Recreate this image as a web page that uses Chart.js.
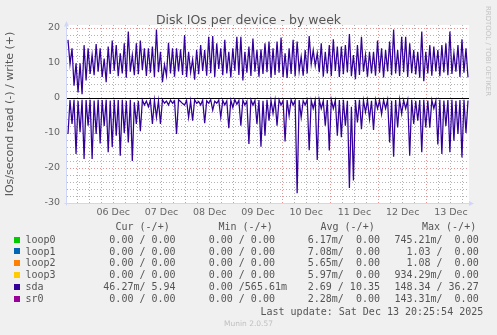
<!DOCTYPE html>
<html>
<head>
<meta charset="utf-8">
<script src="https://cdn.jsdelivr.net/npm/chart.js@4.4.1/dist/chart.umd.min.js"></script>
<style>
html,body{margin:0;padding:0;background:#F0F0F0;width:497px;height:335px;overflow:hidden;}
#wrap{position:relative;width:497px;height:335px;}
#c{position:absolute;left:0;top:0;}
.t{position:absolute;white-space:pre;z-index:2;}
.mono{font-family:"DejaVu Sans Mono",monospace;font-size:10px;line-height:12px;color:#555;}
.sq{position:absolute;width:6px;height:6px;z-index:2;}
</style>
</head>
<body>
<div id="wrap">
<canvas id="c" width="497" height="335"></canvas>
</div>
<script>
// ---- data ----
const graphTitle = 'Disk IOs per device - by week';
const yAxisTitle = 'IOs/second read (-) / write (+)';
// first sample: 05 Dec 13:30 (hours counted from 05 Dec 00:00), one sample per hour
const startHour = 13.5;
const stepHours = 1;
const axisStartHour = 13;
const axisEndHour = 213;
const dayLabels = ['06 Dec','07 Dec','08 Dec','09 Dec','10 Dec','11 Dec','12 Dec','13 Dec'];
const yTickValues = [-30,-28,-26,-24,-22,-20,-18,-16,-14,-12,-10,-8,-6,-4,-2,0,2,4,6,8,10,12,14,16,18,20];

// sda writes (+)
const sdaWrite = [
16.6,9.7,14.2,3.5,9.9,1.6,9.9,1.1,15.1,5.0,14.2,6.9,12.3,6.5,15.4,7.5,14.2,6.0,11.3,4.5,
14.7,6.9,16.4,7.8,15.1,6.2,12.8,7.0,15.6,5.8,19.0,7.5,12.3,6.5,15.6,6.8,16.4,8.0,14.2,6.3,
14.2,7.2,14.7,6.0,19.6,7.4,13.2,4.5,9.5,6.4,15.8,7.0,14.2,6.1,14.2,7.6,13.9,6.6,18.0,6.0,
13.2,7.3,11.0,5.2,13.7,6.8,15.1,7.7,13.7,6.4,17.5,7.1,17.7,6.0,15.6,8.3,14.2,6.5,16.6,7.0,
13.2,5.9,14.2,7.8,17.5,6.6,17.5,5.0,13.2,7.2,14.7,6.3,17.0,7.5,13.7,6.1,13.9,6.9,15.6,7.4,
16.1,5.8,14.2,6.6,16.1,7.2,17.3,6.0,12.8,5.7,14.2,6.9,16.6,6.2,16.1,7.6,11.8,6.4,13.7,7.0,
17.7,9.7,13.7,9.2,12.8,7.4,15.6,6.1,13.2,7.0,15.1,6.3,16.8,7.7,14.7,6.0,14.7,6.8,15.1,7.3,
18.3,6.2,12.3,5.4,15.1,6.6,17.5,7.5,12.3,6.1,13.2,7.0,13.2,6.4,16.4,7.2,14.2,5.9,13.7,7.6,
16.1,6.5,19.6,7.0,13.7,6.3,17.5,7.4,17.5,6.0,15.6,7.1,13.7,6.7,13.2,5.8,19.0,4.8,13.2,7.0,
15.1,6.4,14.7,7.6,13.7,6.2,15.1,7.3,15.6,6.5,19.0,6.9,12.8,7.5,15.1,6.0,16.8,7.2,14.2,5.9
];
// sda reads (-), magnitudes
const sdaRead = [
10.3,0.6,7.4,0.5,16.0,0.8,9.8,0.5,17.4,0.6,7.9,0.5,17.4,0.7,10.3,0.5,13.0,0.6,8.0,0.5,
15.5,0.7,14.0,0.5,10.8,0.6,16.5,0.5,10.0,0.8,12.7,0.5,18.0,1.2,7.4,0.8,9.5,0.6,2.0,0.9,
2.5,0.7,7.4,0.6,5.5,0.8,7.4,0.5,1.5,0.9,2.0,0.6,1.5,0.8,10.3,0.5,1.0,1.6,2.0,0.7,
5.5,0.9,6.5,0.5,1.5,1.0,2.0,0.6,7.2,0.8,1.5,0.5,3.5,0.9,1.5,0.6,5.5,0.7,2.0,0.8,
8.6,0.6,2.7,0.5,1.8,0.7,7.9,0.6,2.0,0.9,13.1,0.5,2.0,0.7,7.4,0.6,13.9,0.8,10.8,0.5,
6.5,0.7,4.4,0.6,7.9,0.5,2.0,0.8,12.4,0.6,5.0,0.5,2.0,0.7,27.2,0.6,5.5,0.8,2.0,0.5,
14.9,0.7,3.0,0.6,17.7,0.5,3.0,0.8,7.9,0.6,15.0,0.5,3.0,0.7,10.8,0.6,11.2,0.5,7.9,0.8,
25.7,2.5,23.6,0.6,7.0,0.5,8.9,0.7,4.0,0.6,6.0,0.8,9.1,0.5,3.0,0.7,4.6,0.6,3.0,0.5,
12.7,0.8,16.8,0.6,8.4,0.5,4.5,0.7,3.0,0.6,16.5,0.5,7.4,0.8,6.5,0.6,15.5,0.5,8.4,0.7,
8.5,0.6,3.0,0.8,13.3,0.5,16.0,0.7,8.0,0.6,15.5,0.5,12.2,0.8,10.3,0.6,17.0,0.5,10.0,0.7
];

// legend table
const legendNames  = ['loop0','loop1','loop2','loop3','sda','sr0'];
const legendColors = ['#00CC00','#0066B3','#FF8000','#FFCC00','#330099','#990099'];
const legendCur = ['  0.00 / 0.00','  0.00 / 0.00','  0.00 / 0.00','  0.00 / 0.00',' 46.27m/ 5.94','  0.00 / 0.00'];
const legendMin = ['  0.00 / 0.00','  0.00 / 0.00','  0.00 / 0.00','  0.00 / 0.00','  0.00 /565.61m','  0.00 / 0.00'];
const legendAvg = ['  6.17m/  0.00','  7.08m/  0.00','  5.65m/  0.00','  5.97m/  0.00','  2.69 / 10.35','  2.28m/  0.00'];
const legendMax = ['745.21m/  0.00','  1.03 /  0.00','  1.08 /  0.00','934.29m/  0.00','148.34 / 36.27','143.31m/  0.00'];
const legendHeaders = ['Cur (-/+)','Min (-/+)','Avg (-/+)','Max (-/+)'];
const lastUpdate = 'Last update: Sat Dec 13 20:25:54 2025';
const footer = 'Munin 2.0.57';
const sideText = 'RRDTOOL / TOBI OETIKER';

// ---- build ----
const writePts = sdaWrite.map((v,i)=>({x:startHour+i*stepHours, y:v}));
const readPts  = sdaRead.map((v,i)=>({x:startHour+i*stepHours, y:-v}));
const xTicks = [];
for (let h = 18; h <= 210; h += 6) xTicks.push(h);

const wrap = document.getElementById('wrap');
function addText(txt, css, cls){
  const d = document.createElement('div');
  d.className = 't ' + (cls||'');
  d.textContent = txt;
  Object.assign(d.style, css);
  wrap.appendChild(d);
  return d;
}
// title
addText(graphTitle,{left:'0px',top:'12px',width:'497px',textAlign:'center',font:'12.5px "DejaVu Sans"',lineHeight:'15px',color:'#555'});
// y title
addText(yAxisTitle,{left:'-90px',top:'107px',width:'200px',height:'14px',textAlign:'center',font:'11px "DejaVu Sans"',lineHeight:'14px',color:'#555',transform:'rotate(-90deg)'});
// side text
addText(sideText,{left:'438px',top:'46px',width:'100px',height:'10px',textAlign:'center',font:'7px "DejaVu Sans"',lineHeight:'10px',color:'#c4c4c4',transform:'rotate(90deg)'});
// legend
const headerX = [115.5,218.5,320.5,422];
legendHeaders.forEach((h,i)=>addText(h,{left:headerX[i]+'px',top:'221px'},'mono'));
const rowY = [240,251.5,263.4,275.3,287.2,299.1];
const colX = [97.3,196.7,295.7,394.4];
legendNames.forEach((n,i)=>{
  const sq = document.createElement('div');
  sq.className='sq';
  sq.style.left='14px'; sq.style.top=(rowY[i]-3.3)+'px'; sq.style.background=legendColors[i];
  wrap.appendChild(sq);
  const top = (rowY[i]-6)+'px';
  addText(n,{left:'25.5px',top},'mono');
  addText(legendCur[i],{left:colX[0]+'px',top},'mono');
  addText(legendMin[i],{left:colX[1]+'px',top},'mono');
  addText(legendAvg[i],{left:colX[2]+'px',top},'mono');
  addText(legendMax[i],{left:colX[3]+'px',top},'mono');
});
addText(lastUpdate,{left:'260.5px',top:'305.5px'},'mono');
addText(footer,{left:'0px',top:'319px',width:'497px',textAlign:'center',font:'7.5px "DejaVu Sans"',lineHeight:'10px',color:'#c0c0c0'});

const frame = {
  id:'muninFrame',
  beforeDraw(chart){
    const {ctx, chartArea:a} = chart;
    ctx.save(); ctx.fillStyle='#FFFFFF';
    ctx.fillRect(a.left, a.top, a.right-a.left, a.bottom-a.top);
    ctx.restore();
  },
  afterDatasetsDraw(chart){
    const {ctx, chartArea:a} = chart;
    ctx.save();
    ctx.strokeStyle='#CFD6F8'; ctx.fillStyle='#CFD6F8'; ctx.lineWidth=1;
    const x0 = Math.round(a.left)-0.5, y0 = Math.round(a.bottom)+0.5;
    ctx.beginPath();
    ctx.moveTo(x0, y0+2); ctx.lineTo(x0, a.top);
    ctx.moveTo(x0-2, y0); ctx.lineTo(a.right+1, y0);
    ctx.stroke();
    ctx.beginPath();
    ctx.moveTo(x0, a.top-4); ctx.lineTo(x0-2.5, a.top+1.5); ctx.lineTo(x0+2.5, a.top+1.5); ctx.closePath();
    ctx.moveTo(a.right+5, y0); ctx.lineTo(a.right, y0-2.5); ctx.lineTo(a.right, y0+2.5); ctx.closePath();
    ctx.fill();
    ctx.restore();
  }
};

const minorGrid = 'rgba(130,130,130,0.6)';
const majorGrid = 'rgba(215,90,90,0.65)';

new Chart(document.getElementById('c'), {
  type:'line',
  data:{datasets:[
    {label:'sda write', data:writePts, borderColor:'#330099', borderWidth:1.25, pointRadius:0, fill:false, tension:0},
    {label:'sda read', data:readPts, borderColor:'#330099', borderWidth:1.25, pointRadius:0, fill:false, tension:0}
  ]},
  options:{
    responsive:false, animation:false, devicePixelRatio:1,
    layout:{padding:{left:0,right:28,top:25,bottom:0}},
    plugins:{legend:{display:false}, tooltip:{enabled:false}, title:{display:false}},
    scales:{
      x:{type:'linear', min:axisStartHour, max:axisEndHour,
        afterBuildTicks(s){ s.ticks = xTicks.map(v=>({value:v})); },
        afterFit(s){ s.height = 132; },
        ticks:{autoSkip:false, maxRotation:0, minRotation:0, padding:4, color:'#666',
          font:{family:'DejaVu Sans', size:9.5},
          callback(v){ return (v % 24 === 12) ? dayLabels[Math.floor(v/24)-1] : ''; }},
        grid:{drawTicks:false, lineWidth:1, color(c){ return (c.tick && c.tick.value % 24 === 0) ? majorGrid : minorGrid; }},
        border:{display:false, dash:[1,2]}
      },
      y:{min:-30, max:20.86,
        afterBuildTicks(s){ s.ticks = yTickValues.map(v=>({value:v})); },
        afterFit(s){ s.width = 67; },
        ticks:{autoSkip:false, padding:7, color:'#666', font:{family:'DejaVu Sans', size:9.5},
          callback(v){ return (v % 10 === 0) ? String(v) : ''; }},
        grid:{drawTicks:false, lineWidth:1, color(c){
          if (!c.tick) return minorGrid;
          if (c.tick.value === 0) return '#000000';
          return (c.tick.value % 10 === 0) ? majorGrid : minorGrid; }},
        border:{display:false, dash(c){ return (c.tick && c.tick.value === 0) ? [] : [1,2]; }}
      }
    }
  },
  plugins:[frame]
});
</script>
</body>
</html>
